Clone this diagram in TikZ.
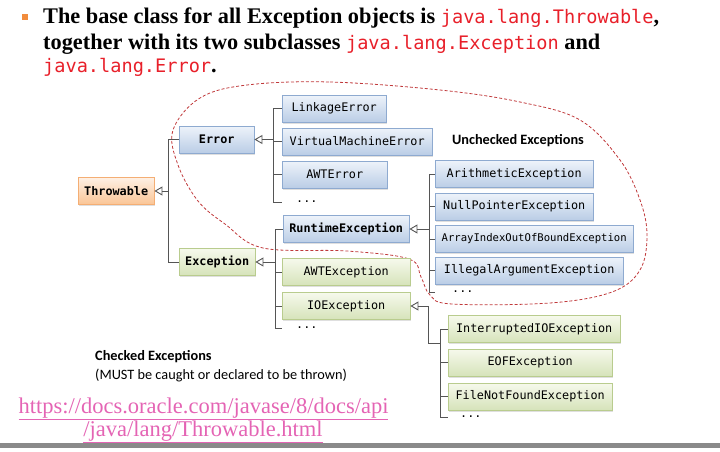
\documentclass[tikz,border=0pt]{standalone}
\usepackage{fontspec}
\setmainfont{Liberation Serif}
\setsansfont{Carlito}
\setmonofont{DejaVu Sans Mono}
\usetikzlibrary{arrows.meta,shadows}

\definecolor{errtop}{HTML}{EEF3FA}
\definecolor{errbot}{HTML}{BACDE6}
\definecolor{errline}{HTML}{8EAAD0}
\definecolor{exctop}{HTML}{F6F9EC}
\definecolor{excbot}{HTML}{D6E3BA}
\definecolor{excline}{HTML}{B9CC8E}
\definecolor{roottop}{HTML}{FEF0E4}
\definecolor{rootbot}{HTML}{FAC596}
\definecolor{rootline}{HTML}{F4AE74}
\definecolor{linkgray}{HTML}{555555}
\definecolor{blobred}{HTML}{C0393B}
\definecolor{codered}{HTML}{E8202A}
\definecolor{urlpink}{HTML}{E464B4}
\definecolor{bulletorange}{HTML}{F28C3C}
\definecolor{bargray}{HTML}{8A8A8A}

\begin{document}
\begin{tikzpicture}[
        x=1pt, y=-1pt,
        cls/.style={rectangle, draw, anchor=west, minimum height=27pt, inner sep=2pt,
            font=\ttfamily\fontsize{11.8}{13}\selectfont,
            drop shadow={opacity=0.25, shadow xshift=1.2pt, shadow yshift=-1.5pt}},
        errcls/.style={cls, draw=errline, top color=errtop, bottom color=errbot},
        exccls/.style={cls, draw=excline, top color=exctop, bottom color=excbot},
        rootcls/.style={cls, draw=rootline, top color=roottop, bottom color=rootbot},
        strong/.style={font=\ttfamily\bfseries\fontsize{11.8}{13}\selectfont},
        more/.style={anchor=west, inner xsep=14pt, inner ysep=0pt, font=\ttfamily\fontsize{11.8}{13}\selectfont},
        link/.style={draw=linkgray, line width=0.9pt},
        inherit/.style={link, {Triangle[open, length=8pt, width=9pt]}-},
        note/.style={anchor=west, inner sep=0pt, font=\sffamily\fontsize{14.3}{16}\selectfont},
        headline/.style={anchor=base west, inner sep=0pt, font=\bfseries\fontsize{22.3}{25}\selectfont},
        url/.style={inner sep=0pt, text=urlpink, font=\fontsize{22.5}{25}\selectfont}
    ]
        \useasboundingbox (0,0) rectangle (720,452);
        \newcommand\redcode[1]{\textcolor{codered}{\mdseries\ttfamily\fontsize{18.6}{25}\selectfont #1}}

        % Heading
        \node[fill=bulletorange, minimum size=6pt, inner sep=0pt] (blt) at (25,17) {};
        \node[headline] (head1) at (43,24) {The base class for all Exception objects is \redcode{java.lang.Throwable},};
        \node[headline] (head2) at (43,49) {together with its two subclasses \redcode{java.lang.Exception} and};
        \node[headline] (head3) at (43,73) {\redcode{java.lang.Error}.};

        % Unchecked exceptions
        \draw[blobred, dashed, dash pattern=on 3pt off 2pt, line width=0.8pt] plot[smooth cycle, tension=0.6] coordinates {
            (247,85) (330,82) (440,90) (520,102) (580,120) (620,160) (640,200) (647,235)
            (640,270) (612,292) (550,303) (452,304) (430,295) (421,277) (409,259)
            (347,251) (263,248) (225,224) (198,201) (178,165) (173,130) (200,98)};

        % Root
        \node[rootcls, strong, minimum width=76pt] (thr) at (78,191) {Throwable};
        \coordinate (thrbus) at (168,0);

        % Error subtree
        \node[errcls, strong, minimum width=75pt] (err) at (179,139.5) {Error};
        \node[errcls, minimum width=104pt] (lnk) at (282,108.5) {LinkageError};
        \node[errcls, minimum width=150pt] (vme) at (282,141.5) {VirtualMachineError};
        \node[errcls, minimum width=105pt] (awte) at (282,174.5) {AWTError};
        \node[more] (errdots) at (282,202) {...};
        \coordinate (errbus) at (273,0);

        % Exception subtree
        \node[exccls, strong, minimum width=76pt] (exc) at (179,262) {Exception};
        \node[errcls, strong, minimum width=126pt] (rte) at (283,229) {RuntimeException};
        \node[exccls, minimum width=128pt] (awtx) at (282,272) {AWTException};
        \node[exccls, minimum width=128pt] (ioe) at (282,306) {IOException};
        \node[more] (excdots) at (282,328) {...};
        \coordinate (excbus) at (275,0);

        % RuntimeException subtree
        \node[errcls, minimum width=158pt] (ari) at (435,174) {ArithmeticException};
        \node[errcls, minimum width=158pt] (npe) at (435,206.5) {NullPointerException};
        \node[errcls, minimum width=198pt, font=\ttfamily\fontsize{10.6}{12}\selectfont] (aio) at (435,239) {ArrayIndexOutOfBoundException};
        \node[errcls, minimum width=188pt] (iae) at (435,270.5) {IllegalArgumentException};
        \node[more, inner xsep=17pt] (rtedots) at (435,292) {...};
        \coordinate (rtebus) at (429,0);

        % IOException subtree
        \node[exccls, minimum width=172pt] (iio) at (448,329) {InterruptedIOException};
        \node[exccls, minimum width=164pt] (eof) at (448,362.5) {EOFException};
        \node[exccls, minimum width=164pt] (fnf) at (448,396.5) {FileNotFoundException};
        \node[more, inner xsep=12pt] (iodots) at (448,417) {...};
        \coordinate (iobus) at (440,0);
        \coordinate (iojoint) at (428,343);

        % Connectors
        \draw[inherit] (thr.east) -- (thr.east -| thrbus);
        \draw[link] (err.west) -| (thrbus |- exc.west) -- (exc.west);

        \draw[inherit] (err.east) -- (err.east -| errbus);
        \draw[link] (lnk.west -| errbus) -- (errdots.west -| errbus);
        \foreach \c in {lnk,vme,awte,errdots}
            \draw[link] (\c.west -| errbus) -- (\c.west);

        \draw[inherit] (exc.east) -- (exc.east -| excbus);
        \draw[link] (rte.west -| excbus) -- (excdots.west -| excbus);
        \foreach \c in {rte,awtx,ioe,excdots}
            \draw[link] (\c.west -| excbus) -- (\c.west);

        \draw[inherit] (rte.east) -- (rte.east -| rtebus);
        \draw[link] (ari.west -| rtebus) -- (rtedots.west -| rtebus);
        \foreach \c in {ari,npe,aio,iae,rtedots}
            \draw[link] (\c.west -| rtebus) -- (\c.west);

        \draw[inherit] (ioe.east) -| (iojoint) -- (iojoint -| iobus);
        \draw[link] (iio.west -| iobus) -- (iodots.west -| iobus);
        \foreach \c in {iio,eof,fnf,iodots}
            \draw[link] (\c.west -| iobus) -- (\c.west);

        % Labels
        \node[note, font=\sffamily\bfseries\fontsize{14.3}{16}\selectfont, anchor=center] (unchk) at (518,141) {Unchecked Exceptions};
        \node[note, font=\sffamily\bfseries\fontsize{14.3}{16}\selectfont] (chk) at (95,357) {Checked Exceptions};
        \node[note] (chkrule) at (95,375) {(MUST be caught or declared to be thrown)};
        \node[url] (url1) at (203.5,409) {\underline{https://docs.oracle.com/javase/8/docs/api}};
        \node[url] (url2) at (203,432) {\underline{/java/lang/Throwable.html}};

        % Bottom bar
        \fill[bargray] (0,443) rectangle (720,448);
    \end{tikzpicture}
\end{document}
